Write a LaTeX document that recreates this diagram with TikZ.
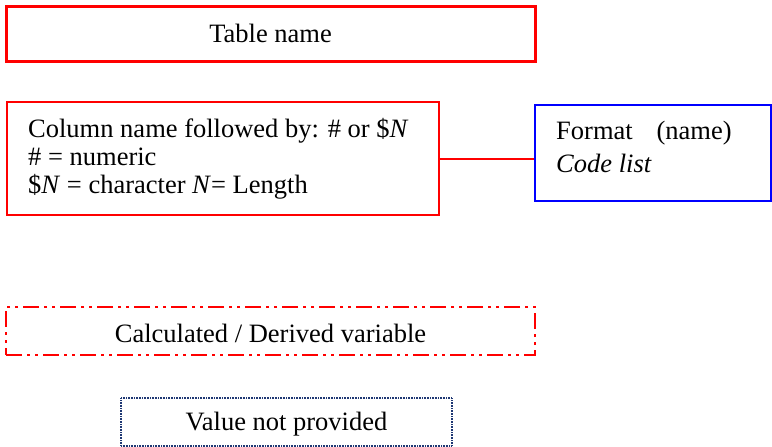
\documentclass[tikz,border=0pt]{standalone}
\usepackage{fontspec}
\setmainfont{Liberation Serif}
\definecolor{navy}{RGB}{30,55,115}
\begin{document}
\begin{tikzpicture}[x=1pt,y=-1pt,
  txt/.style={font=\fontsize{26.5}{28}\selectfont, inner sep=0pt},
  boxred/.style={draw=red, line width=2pt, inner sep=0pt},
]
\useasboundingbox (0,0) rectangle (772,447);
% Table name
\node[boxred, line width=3pt, minimum width=529pt, minimum height=55pt] (tbl) at (270.5,33.5) {};
\node[txt] (tbltxt) at (270.5,33) {Table name};
% Column box
\node[boxred, minimum width=432pt, minimum height=113pt] (col) at (223,158.5) {};
\node[txt, anchor=west, align=left] (coltxt) at (28,158.5) {Column name followed by: \# or \$\textit{N}\\\# = numeric\\\$\textit{N} = character \textit{N}= Length};
% Format box
\node[draw=blue, line width=2pt, minimum width=236pt, minimum height=96pt] (fmt) at (653,153) {};
\node[txt, font=\fontsize{26.5}{33}\selectfont, anchor=west, align=left] (fmttxt) at (556,147) {Format\hspace{0.9em}(name)\\\textit{Code list}};
\draw[red, line width=2pt] (col.east) -- (col.east -| fmt.west);
% Calculated
\node[draw=red, line width=2pt, dash pattern=on 16pt off 5pt on 3pt off 5pt on 3pt off 5pt, minimum width=529pt, minimum height=48pt] (calc) at (270.5,331) {};
\node[txt] (calctxt) at (270.5,333) {Calculated / Derived variable};
% Value not provided
\node[draw=navy, line width=1.5pt, dash pattern=on 1pt off 0.6pt, minimum width=331pt, minimum height=48pt] (val) at (286.5,422) {};
\node[txt] (valtxt) at (286.5,424) {Value not provided};
\end{tikzpicture}
\end{document}
